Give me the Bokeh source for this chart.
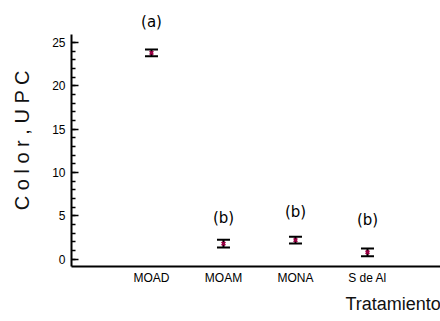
from bokeh.plotting import figure
from bokeh.models import ColumnDataSource, Whisker, TeeHead, FixedTicker, Title
from bokeh.embed import file_html
from bokeh.resources import INLINE

treatments = ["MOAD", "MOAM", "MONA", "S de Al"]
positions = [1, 2, 3, 4]
means = [23.8, 1.8, 2.2, 0.8]
errors = [0.4, 0.45, 0.4, 0.45]
letters = ["(a)", "(b)", "(b)", "(b)"]
letter_y = [27.4, 4.8, 5.5, 4.5]

lower = [m - e for m, e in zip(means, errors)]
upper = [m + e for m, e in zip(means, errors)]
src = ColumnDataSource(dict(x=positions, y=means, lower=lower, upper=upper,
                            lab=letters, ly=letter_y))

x0, x1 = -0.111, 5.014
y0, y1 = -0.84, 28.92

p = figure(width=440, height=321, output_backend="svg", toolbar_location=None,
           x_range=(x0, x1), y_range=(y0, y1),
           min_border_left=71, min_border_right=0, min_border_top=8,
           min_border_bottom=55)
p.outline_line_color = None
p.xgrid.grid_line_color = None
p.ygrid.grid_line_color = None
p.background_fill_color = "white"
p.border_fill_color = "white"

# y axis
ya = p.yaxis[0]
ya.ticker = FixedTicker(ticks=[0, 5, 10, 15, 20, 25], minor_ticks=list(range(0, 26)))
ya.bounds = (y0, 25.9)
ya.axis_line_width = 2
ya.axis_line_color = "black"
ya.major_tick_in = 7
ya.major_tick_out = 0
ya.minor_tick_in = 4
ya.minor_tick_out = 0
ya.major_tick_line_width = 1.5
ya.minor_tick_line_width = 1.5
ya.major_label_text_font = "Liberation Sans"
ya.major_label_text_font_size = "12px"
ya.major_label_text_color = "black"
ya.major_label_standoff = 6
ya.axis_label = "C o l o r ,  U P C"
ya.axis_label_text_font = "Liberation Sans"
ya.axis_label_text_font_style = "normal"
ya.axis_label_text_font_size = "20px"
ya.axis_label_text_color = "#111111"
ya.axis_label_standoff = 16

# x axis
xa = p.xaxis[0]
xa.ticker = FixedTicker(ticks=positions, minor_ticks=[])
xa.major_label_overrides = {pos: t for pos, t in zip(positions, treatments)}
xa.axis_line_width = 2
xa.axis_line_color = "black"
xa.major_tick_in = 0
xa.major_tick_out = 0
xa.major_label_text_font = "Liberation Sans"
xa.major_label_text_font_size = "12px"
xa.major_label_text_color = "black"
xa.major_label_standoff = 4

# error bars
w = Whisker(source=src, base="x", lower="lower", upper="upper", dimension="height",
            line_color="black", line_width=2,
            upper_head=TeeHead(size=13, line_color="black", line_width=2),
            lower_head=TeeHead(size=13, line_color="black", line_width=2))
p.add_layout(w)

p.scatter("x", "y", source=src, size=5, marker="x", line_color="#990044",
          line_width=2)

p.text("x", "ly", text="lab", source=src, text_align="center", text_baseline="middle",
       text_font_size="15px", text_font={"value": "DejaVu Sans"}, text_color="black")

t = Title(text="Tratamiento", align="left", offset=274, text_font="Liberation Sans",
          text_font_size="18px", text_font_style="normal", text_color="#111111",
          standoff=8)
p.add_layout(t, "below")

open("out.html", "w").write(file_html(p, INLINE))
